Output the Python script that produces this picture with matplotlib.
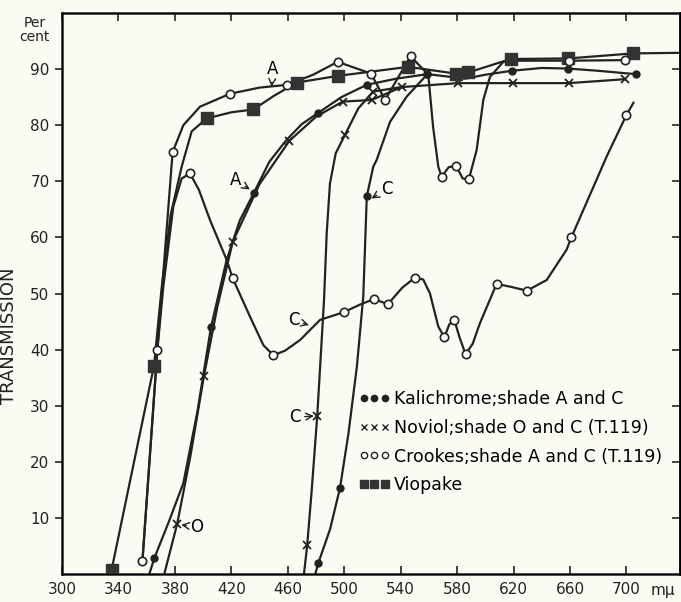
import matplotlib
matplotlib.use('AGG')
import matplotlib.pyplot as plt
from matplotlib.lines import Line2D

# wavelength (m-mu) / transmission (per cent)
# traced curve points, then the plotted (marked) points

kal_a_x = [361.9, 365.4, 376, 386, 396, 405.6, 416.7, 426, 436.1, 447, 459.2, 470, 481.6, 498, 516, 537, 559, 586, 600, 618.7, 640, 658.4, 680, 706.6]
kal_a_y = [0, 2.8, 9.5, 16.2, 29, 44, 56, 63, 68, 73.5, 77.4, 80.2, 82.2, 85, 87.2, 88.3, 89.1, 88.3, 89, 89.7, 90.2, 90.1, 89.7, 89.1]
kal_a_mx = [365.4, 405.6, 436.1, 481.6, 516, 559, 618.7, 658.4, 706.6]
kal_a_my = [2.8, 44, 68, 82.2, 87.2, 89.1, 89.7, 90.1, 89.1]

kal_c_x = [479.5, 481.6, 490, 497, 503, 509, 513.5, 514.7, 516, 520.6, 523, 532.5, 544.3, 559]
kal_c_y = [0, 1.9, 8, 15.3, 25, 37, 49.4, 57.8, 67.3, 72.6, 73.8, 80.6, 85.1, 89.1]
kal_c_mx = [481.6, 497, 516, 559]
kal_c_my = [1.9, 15.3, 67.3, 89.1]

nov_o_x = [372.5, 381.7, 391, 400.6, 410, 421, 440, 461.1, 480, 498.9, 519.5, 540.7, 580.9, 619.9, 659.3, 699]
nov_o_y = [0, 9, 21, 35.3, 47.5, 59.2, 69.5, 77.2, 81.5, 84.2, 84.5, 86.8, 87.5, 87.5, 87.5, 88.2]
nov_o_mx = [381.7, 400.6, 421, 461.1, 498.9, 519.5, 540.7, 580.9, 619.9, 659.3, 699]
nov_o_my = [9, 35.3, 59.2, 77.2, 84.2, 84.5, 86.8, 87.5, 87.5, 87.5, 88.2]

nov_c_x = [471.5, 473.8, 477, 480.9, 485.7, 487.6, 489.9, 494, 500.6, 510, 520.6, 540.7]
nov_c_y = [0, 5.2, 15, 28.2, 48.8, 60.7, 69.6, 75, 78.3, 83, 86, 86.8]
nov_c_mx = [473.8, 480.9, 500.6, 520.6]
nov_c_my = [5.2, 28.2, 78.3, 86]

cro_a_x = [357, 367.6, 378.4, 386, 397.8, 419, 440, 459.6, 478, 495.4, 519, 529, 547, 559.6, 563, 566.7, 569, 574, 579.2, 584, 588.4, 593.9, 598.6, 603.3, 612.8, 620, 659, 699]
cro_a_y = [2.3, 40, 75.2, 80, 83.3, 85.6, 86.7, 87.2, 89, 91.3, 89.2, 84.5, 92.3, 89, 79.7, 72.6, 70.8, 72.5, 72.8, 70.5, 70.4, 75.6, 84.5, 88.6, 91.3, 91.5, 91.5, 91.6]
cro_a_mx = [357, 367.6, 378.4, 419, 459.6, 495.4, 519, 529, 547, 569, 579.2, 588.4, 659, 699]
cro_a_my = [2.3, 40, 75.2, 85.6, 87.2, 91.3, 89.2, 84.5, 92.3, 70.8, 72.8, 70.4, 91.5, 91.6]

cro_c_x = [357, 367.6, 371.8, 378.9, 384.8, 390.7, 397, 404.9, 416.7, 421, 433.2, 442.7, 449.8, 458, 468.7, 482.9, 500, 511, 521, 531, 541, 550, 556, 560.8, 566.7, 571, 574.5, 578, 582, 586, 591, 596.2, 608, 618, 629.5, 643.5, 657.6, 661, 686, 700, 705]
cro_c_y = [2.3, 40, 51.2, 65.5, 70.5, 71.4, 68.5, 63.1, 56, 52.7, 45.9, 40.8, 39, 39.8, 41.7, 45.3, 46.7, 48, 49, 48.1, 51, 52.8, 52.5, 50, 44.1, 42.2, 44.5, 45.3, 42, 39.2, 41, 44.7, 51.7, 51.2, 50.5, 52.4, 57.8, 60, 74.4, 81.8, 84]
cro_c_mx = [390.7, 421, 449.8, 500, 521, 531, 550, 571, 578, 586, 608, 629.5, 661, 700]
cro_c_my = [71.4, 52.7, 39, 46.7, 49, 48.1, 52.8, 42.2, 45.3, 39.2, 51.7, 50.5, 60, 81.8]

vio_x = [335.2, 365.2, 370.7, 377, 384.8, 391.9, 402.5, 420, 435.6, 450, 466.3, 495.8, 545.4, 579, 588, 618, 658.8, 704.9, 738]
vio_y = [0.8, 37.1, 51.2, 64, 72.6, 78.9, 81.2, 82.3, 82.8, 85.2, 87.6, 88.8, 90.4, 89.2, 89.4, 91.8, 91.9, 92.8, 92.9]
vio_mx = [335.2, 365.2, 402.5, 435.6, 466.3, 495.8, 545.4, 579, 588, 618, 658.8, 704.9]
vio_my = [0.8, 37.1, 81.2, 82.8, 87.6, 88.8, 90.4, 89.2, 89.4, 91.8, 91.9, 92.8]

x_ticks = [300, 340, 380, 420, 460, 500, 540, 580, 620, 660, 700]
y_ticks = [10, 20, 30, 40, 50, 60, 70, 80, 90]

legend_labels = ['Kalichrome;shade A and C', 'Noviol;shade O and C (T.119)',
                 'Crookes;shade A and C (T.119)', 'Viopake']

ink = '#222222'
paper = '#fbfbf3'
lw = 1.6

fig = plt.figure(figsize=(6.81, 6.02), dpi=100, facecolor=paper)
ax = fig.add_axes([62 / 681, 28 / 602, 618 / 681, 561 / 602])
ax.set_facecolor(paper)

for xs, ys in [(kal_a_x, kal_a_y), (kal_c_x, kal_c_y), (nov_o_x, nov_o_y), (nov_c_x, nov_c_y),
               (cro_a_x, cro_a_y), (cro_c_x, cro_c_y), (vio_x, vio_y)]:
    ax.plot(xs, ys, color=ink, lw=lw, zorder=2)

ax.plot(kal_a_mx, kal_a_my, 'o', color=ink, ms=5, zorder=3)
ax.plot(kal_c_mx, kal_c_my, 'o', color=ink, ms=5, zorder=3)
ax.plot(nov_o_mx, nov_o_my, 'x', color=ink, ms=6, mew=1.3, zorder=3)
ax.plot(nov_c_mx, nov_c_my, 'x', color=ink, ms=6, mew=1.3, zorder=3)
ax.plot(cro_a_mx, cro_a_my, 'o', mfc='white', mec=ink, ms=6, mew=1.2, zorder=4)
ax.plot(cro_c_mx, cro_c_my, 'o', mfc='white', mec=ink, ms=6, mew=1.2, zorder=4)
ax.plot(vio_mx, vio_my, 's', color='#333333', ms=8, zorder=3)

# small letter labels with arrows
arr = dict(arrowstyle='->', color=ink, lw=1.0, shrinkA=1, shrinkB=1)
ax.annotate('A', xy=(448.5, 86.6), xytext=(449.5, 90), fontsize=12, ha='center', va='center', arrowprops=arr)
ax.annotate('A', xy=(434, 68.4), xytext=(423, 70.2), fontsize=12, ha='center', va='center', arrowprops=arr)
ax.annotate('C', xy=(476, 44.3), xytext=(464, 45.2), fontsize=12, ha='center', va='center', arrowprops=arr)
ax.annotate('C', xy=(479.5, 28.2), xytext=(465, 27.9), fontsize=12, ha='center', va='center', arrowprops=arr)
ax.annotate('O', xy=(383.5, 8.8), xytext=(395.5, 8.4), fontsize=12, ha='center', va='center', arrowprops=arr)
ax.annotate('C', xy=(518.5, 66.8), xytext=(530, 68.6), fontsize=12, ha='center', va='center', arrowprops=arr)

ax.set_xlim(300, 738)
ax.set_ylim(0, 100)
ax.set_xticks(x_ticks)
ax.set_xticklabels([str(t) for t in x_ticks])
ax.set_yticks(y_ticks)
ax.set_yticklabels([str(t) for t in y_ticks])
ax.tick_params(axis='x', direction='in', top=True, bottom=True, length=6, width=1.2,
               labelsize=11, pad=6, colors=ink)
ax.tick_params(axis='y', direction='out', left=True, right=False, length=5, width=1.2,
               labelsize=11, pad=4, colors=ink)
for s in ax.spines.values():
    s.set_linewidth(1.8)
    s.set_color(ink)

ax2 = ax.twinx()
ax2.set_ylim(0, 100)
ax2.set_yticks(y_ticks)
ax2.tick_params(axis='y', direction='in', length=6, width=1.2, labelright=False, colors=ink)
ax2.spines['right'].set_linewidth(1.8)

ax.set_ylabel('TRANSMISSION', fontsize=13, color=ink)
ax.yaxis.set_label_coords(-0.071, 0.424)
ax.text(-0.044, 0.97, 'Per\ncent', transform=ax.transAxes, fontsize=10, ha='center', va='center',
        linespacing=1.0, color=ink)
ax.text(726, -2.9, 'm\u03bc', fontsize=11, ha='center', va='center', color=ink, clip_on=False)

handles = [
    Line2D([], [], ls='none', marker='o', color=ink, ms=4.5),
    Line2D([], [], ls='none', marker='x', color=ink, ms=4.5, mew=1.0),
    Line2D([], [], ls='none', marker='o', mfc='white', mec=ink, ms=4.5),
    Line2D([], [], ls='none', marker='s', color='#333333', ms=6),
]
ax.legend(handles, legend_labels, loc='upper left', bbox_to_anchor=(0.48, 0.328), numpoints=3,
          handlelength=1.8, handletextpad=0.25, labelspacing=0.62, frameon=False, fontsize=12.5,
          borderaxespad=0, borderpad=0)

plt.savefig('out.png', dpi=100, facecolor=paper)
